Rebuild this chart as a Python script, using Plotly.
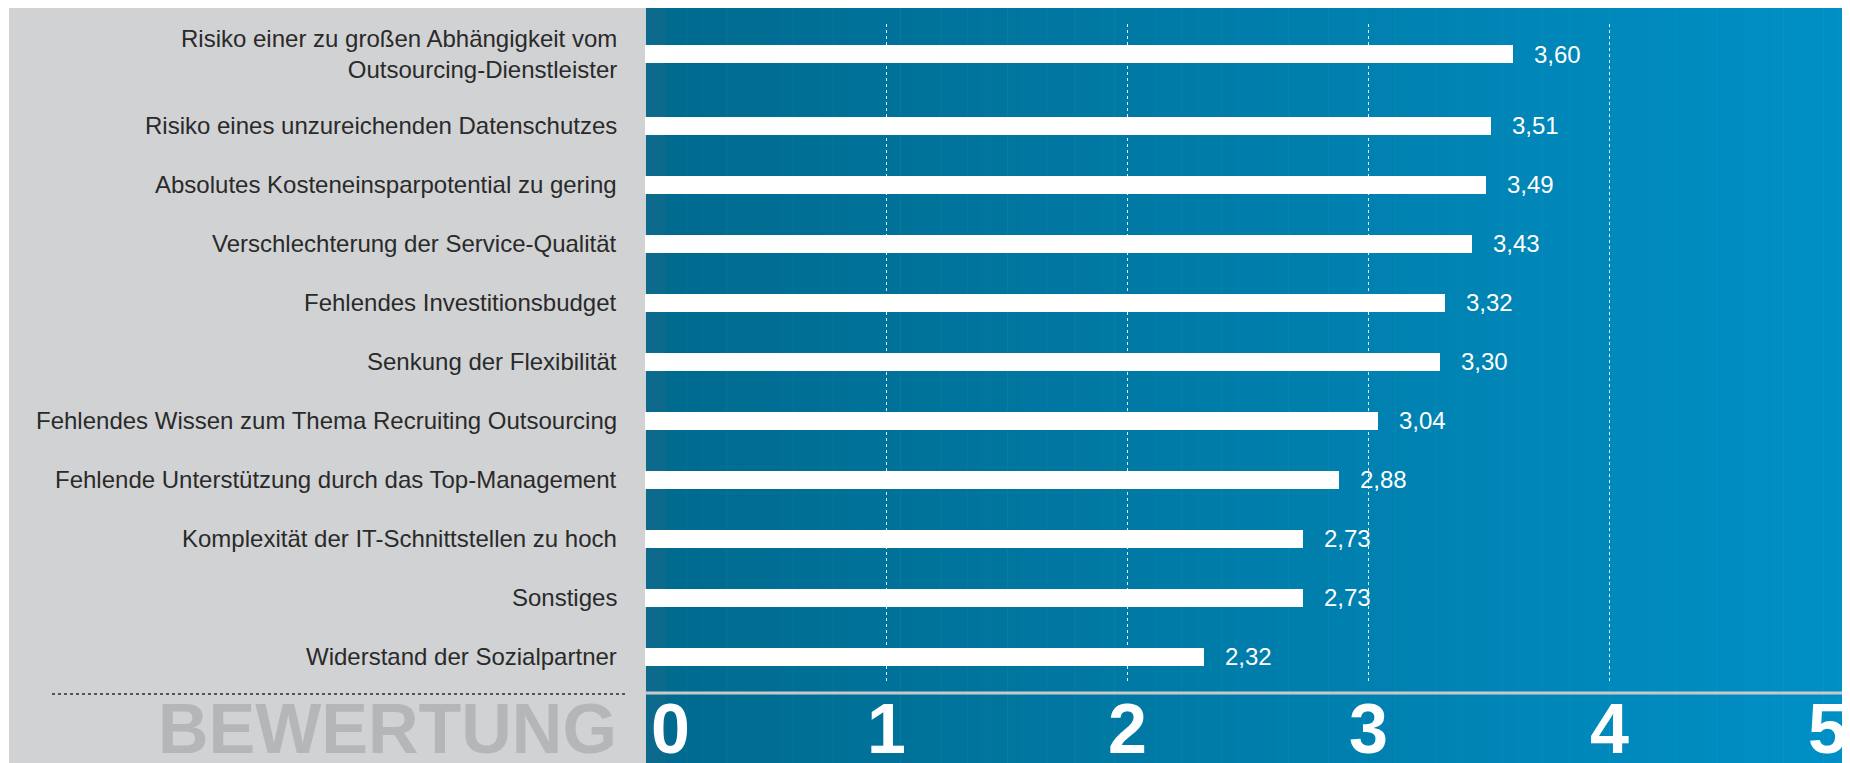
import plotly.graph_objects as go

# ---------------- data ----------------
categories = [
    "Risiko einer zu großen Abhängigkeit vom<br>Outsourcing-Dienstleister",
    "Risiko eines unzureichenden Datenschutzes",
    "Absolutes Kosteneinsparpotential zu gering",
    "Verschlechterung der Service-Qualität",
    "Fehlendes Investitionsbudget",
    "Senkung der Flexibilität",
    "Fehlendes Wissen zum Thema Recruiting Outsourcing",
    "Fehlende Unterstützung durch das Top-Management",
    "Komplexität der IT-Schnittstellen zu hoch",
    "Sonstiges",
    "Widerstand der Sozialpartner",
]
values = [3.60, 3.51, 3.49, 3.43, 3.32, 3.30, 3.04, 2.88, 2.73, 2.73, 2.32]
axis_ticks = [0, 1, 2, 3, 4, 5]
axis_title = "BEWERTUNG"

# ---------------- geometry / style ----------------
OFF = 8                      # default page body margin
SW, SH = 1850, 763           # screen size
W, H = SW - OFF, SH - OFF    # figure size
FONT = "Liberation Sans, Arial, Helvetica, sans-serif"
GRAY = "#d1d2d4"
BLUE_L = (0, 106, 142)
BLUE_R = (0, 144, 198)
PANEL_LEFT = 9
PANEL_SPLIT = 646
ZERO_PX = 645
PLOT_TOP = 24
PLOT_BOT = 682
FIRST_BAR = 54
SLOT = 59.0

def px_x(p):
    return max(0.0, min(1.0, (p - OFF) / W))

def px_y(p):
    return max(0.0, min(1.0, (H - (p - OFF)) / H))

# bar slots: two-line labels get a slightly larger slot
pos = []
p = 0.0
for i, lab in enumerate(categories):
    if i > 0:
        p += 1 + 0.22 * categories[i - 1].count("<br>")
    pos.append(p)

fig = go.Figure()
fig.add_trace(go.Bar(
    x=values, y=pos, orientation="h",
    marker=dict(color="white", line=dict(width=0)),
    width=18 / SLOT, hoverinfo="skip",
))

shapes = []
# gray panel
shapes.append(dict(type="rect", xref="paper", yref="paper", layer="below",
                   x0=px_x(PANEL_LEFT), x1=px_x(PANEL_SPLIT), y0=0, y1=1,
                   fillcolor=GRAY, line=dict(width=0)))
# blue gradient panel (strips)
N = 90
for k in range(N):
    a = PANEL_SPLIT + (SW - PANEL_SPLIT) * k / N
    b = PANEL_SPLIT + (SW - PANEL_SPLIT) * (k + 1) / N + 0.6
    t = (k + 0.5) / N
    c = tuple(round(BLUE_L[j] + (BLUE_R[j] - BLUE_L[j]) * t) for j in range(3))
    shapes.append(dict(type="rect", xref="paper", yref="paper", layer="below",
                       x0=px_x(a), x1=px_x(b), y0=0, y1=1,
                       fillcolor="rgb(%d,%d,%d)" % c, line=dict(width=0)))
# subtle edge strip
shapes.append(dict(type="rect", xref="paper", yref="paper", layer="below",
                   x0=px_x(PANEL_SPLIT), x1=px_x(PANEL_SPLIT + 20), y0=0, y1=1,
                   fillcolor="rgb(12,106,141)", line=dict(width=0)))
# separator line in blue panel
shapes.append(dict(type="line", xref="paper", yref="paper", layer="above",
                   x0=px_x(PANEL_SPLIT), x1=1, y0=px_y(693), y1=px_y(693),
                   line=dict(color="#c8c9cb", width=3)))
# dotted line in gray panel
shapes.append(dict(type="line", xref="paper", yref="paper", layer="above",
                   x0=px_x(52), x1=px_x(626), y0=px_y(694), y1=px_y(694),
                   line=dict(color="#555555", width=2, dash="dot")))

annotations = []
# category labels
for lab, yv in zip(categories, pos):
    annotations.append(dict(x=px_x(619), xref="paper", y=yv, yref="y",
                            text=lab, showarrow=False, xanchor="right", yanchor="middle",
                            align="right",
                            font=dict(family=FONT, size=24, color="#2a2a2a")))
# value labels
for v, yv in zip(values, pos):
    annotations.append(dict(x=v, xref="x", y=yv, yref="y", xshift=19,
                            text=f"{v:.2f}".replace(".", ","), showarrow=False,
                            xanchor="left", yanchor="middle",
                            font=dict(family=FONT, size=24, color="white")))
# big axis digits
for t in axis_ticks:
    if t == axis_ticks[0]:
        xa, xs = "left", 4
    elif t == axis_ticks[-1]:
        xa, xs = "right", -1
    else:
        xa, xs = "center", 0
    annotations.append(dict(x=t, xref="x", y=px_y(729), yref="paper",
                            text=f"<b>{t}</b>", showarrow=False, xanchor=xa, xshift=xs,
                            yanchor="middle",
                            font=dict(family=FONT, size=70, color="white")))
# BEWERTUNG
annotations.append(dict(x=px_x(619), xref="paper", y=px_y(729), yref="paper",
                        text=f"<b>{axis_title}</b>", showarrow=False, xanchor="right",
                        yanchor="middle",
                        font=dict(family=FONT, size=70, color="#b5b6b8")))

fig.update_layout(
    width=W, height=H,
    margin=dict(l=0, r=0, t=0, b=0),
    paper_bgcolor="white", plot_bgcolor="rgba(0,0,0,0)",
    showlegend=False, bargap=0,
    shapes=shapes, annotations=annotations,
    xaxis=dict(domain=[px_x(ZERO_PX), 1], range=[0, 5], tickmode="array",
               tickvals=axis_ticks[1:-1], showticklabels=False, ticks="",
               showgrid=True, gridcolor="rgba(255,255,255,0.9)", gridwidth=1,
               griddash="dot", zeroline=False, showline=False, fixedrange=True),
    yaxis=dict(domain=[px_y(PLOT_BOT), px_y(PLOT_TOP)],
               range=[(PLOT_BOT - FIRST_BAR) / SLOT, (PLOT_TOP - FIRST_BAR) / SLOT],
               showticklabels=False, showgrid=False, zeroline=False, ticks="",
               fixedrange=True),
)

fig.write_html("out.html")
